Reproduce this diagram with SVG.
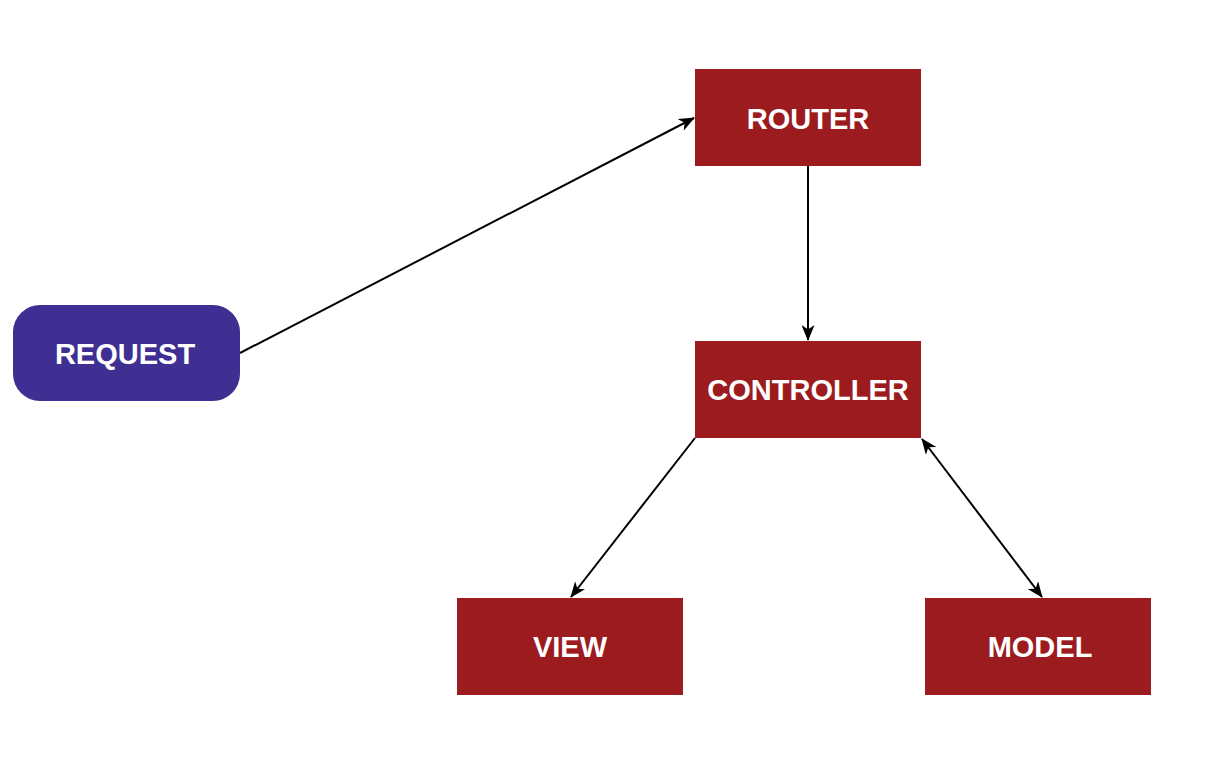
<svg xmlns="http://www.w3.org/2000/svg" width="1212" height="757" viewBox="0 0 1212 757">
<style>
.box{fill:#9B1B1F;}
.req{fill:#3F2F93;}
.lbl{font-family:"Liberation Sans",Arial,sans-serif;font-weight:bold;font-size:29px;fill:#FFFFFF;text-anchor:middle;dominant-baseline:central;}
.edge{stroke:#000;stroke-width:2;fill:none;}
</style>
<defs>
<marker id="ah" viewBox="0 0 16 13" refX="15" refY="6.5" markerWidth="16" markerHeight="13" markerUnits="userSpaceOnUse" orient="auto-start-reverse">
<path d="M0,0 L16,6.5 L0,13 L4.5,6.5 Z" fill="#000"/>
</marker>
</defs>
<rect width="1212" height="757" fill="#FFFFFF"/>
<g id="connectors">
<line class="edge" x1="240" y1="353" x2="694" y2="118" marker-end="url(#ah)"/>
<line class="edge" x1="808" y1="166" x2="808" y2="340" marker-end="url(#ah)"/>
<line class="edge" x1="695" y1="438" x2="571" y2="597" marker-end="url(#ah)"/>
<line class="edge" x1="922" y1="439" x2="1042" y2="597" marker-start="url(#ah)" marker-end="url(#ah)"/>
</g>
<g id="request">
<rect class="req" x="13" y="305" width="227" height="96" rx="27" ry="27"/>
<text class="lbl" x="125" y="354">REQUEST</text>
</g>
<g id="router">
<rect class="box" x="695" y="69" width="226" height="97"/>
<text class="lbl" x="808" y="119">ROUTER</text>
</g>
<g id="controller">
<rect class="box" x="695" y="341" width="226" height="97"/>
<text class="lbl" x="808" y="390">CONTROLLER</text>
</g>
<g id="view">
<rect class="box" x="457" y="598" width="226" height="97"/>
<text class="lbl" x="570" y="647">VIEW</text>
</g>
<g id="model">
<rect class="box" x="925" y="598" width="226" height="97"/>
<text class="lbl" x="1040" y="647">MODEL</text>
</g>
</svg>
